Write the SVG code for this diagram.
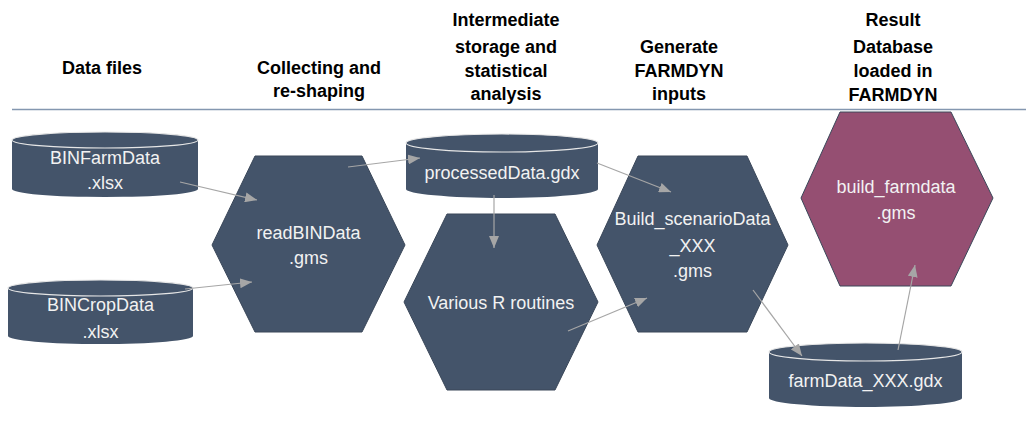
<svg xmlns="http://www.w3.org/2000/svg" width="1026" height="423" viewBox="0 0 1026 423">
<defs>
<style>
.hdr{font-family:"Liberation Sans",Arial,sans-serif;font-weight:bold;font-size:18px;fill:#000;text-anchor:middle}
.lbl{font-family:"Liberation Sans",Arial,sans-serif;font-size:18px;fill:#F2F2F2;text-anchor:middle}
.body{fill:#44546A}
.hex{fill:#44546A;stroke:#3A4759;stroke-width:1}
.hexp{fill:#954F72;stroke:#3A4759;stroke-width:1}
.rim{fill:none;stroke:#E6E6E6;stroke-width:1.2}
.edge{stroke:#A6A6A6;stroke-width:1.2;fill:none;marker-end:url(#ah)}
</style>
<marker id="ah" viewBox="0 0 12 10" refX="12" refY="5" markerWidth="12" markerHeight="10" markerUnits="userSpaceOnUse" orient="auto">
<path d="M0,0 L12,5 L0,10 Z" fill="#A6A6A6"/>
</marker>
</defs>
<rect width="1026" height="423" fill="#fff"/>
<g id="headers">
<text class="hdr" x="102" y="74">Data files</text>
<text class="hdr" x="319" y="74">Collecting and</text>
<text class="hdr" x="319" y="97">re-shaping</text>
<text class="hdr" x="506" y="26">Intermediate</text>
<text class="hdr" x="506" y="53">storage and</text>
<text class="hdr" x="506" y="77">statistical</text>
<text class="hdr" x="506" y="100">analysis</text>
<text class="hdr" x="679" y="53">Generate</text>
<text class="hdr" x="679" y="77">FARMDYN</text>
<text class="hdr" x="679" y="100">inputs</text>
<text class="hdr" x="893" y="26">Result</text>
<text class="hdr" x="893" y="53">Database</text>
<text class="hdr" x="893" y="77">loaded in</text>
<text class="hdr" x="893" y="101">FARMDYN</text>
<line x1="12" y1="109.5" x2="1026" y2="109.5" stroke="#8497B0" stroke-width="1.3"/>
</g>
<g id="binfarmdata">
<path class="body" d="M12,140 A93,8 0 0 1 198,140 L198,189 A93,8 0 0 1 12,189 Z"/>
<ellipse class="rim" cx="105" cy="140" rx="93" ry="8"/>
<text class="lbl" x="105" y="164">BINFarmData</text>
<text class="lbl" x="105" y="189">.xlsx</text>
</g>
<g id="bincropdata">
<path class="body" d="M8,288 A92.5,8 0 0 1 193,288 L193,336 A92.5,8 0 0 1 8,336 Z"/>
<ellipse class="rim" cx="100.5" cy="288" rx="92.5" ry="8"/>
<text class="lbl" x="100.5" y="311">BINCropData</text>
<text class="lbl" x="100.5" y="338">.xlsx</text>
</g>
<g id="readbindata">
<polygon class="hex" points="255,156 362,156 405,245 362,332 255,332 212,245"/>
<text class="lbl" x="308.5" y="239">readBINData</text>
<text class="lbl" x="308.5" y="264">.gms</text>
</g>
<g id="processeddata">
<path class="body" d="M406,143 A96,9 0 0 1 598,143 L598,189 A96,9 0 0 1 406,189 Z"/>
<ellipse class="rim" cx="502" cy="143" rx="96" ry="9"/>
<text class="lbl" x="502" y="179">processedData.gdx</text>
</g>
<g id="various-r">
<polygon class="hex" points="447,214 555,214 598,302 555,390 447,390 404,302"/>
<text class="lbl" x="501" y="309">Various R routines</text>
</g>
<g id="build-scenario">
<polygon class="hex" points="638,156 747,156 788,245 747,332 638,332 597,245"/>
<text class="lbl" x="692.5" y="225">Build_scenarioData</text>
<text class="lbl" x="692.5" y="252">_XXX</text>
<text class="lbl" x="692.5" y="277">.gms</text>
</g>
<g id="farmdata-xxx">
<path class="body" d="M769,352 A96.5,9 0 0 1 962,352 L962,398 A96.5,9 0 0 1 769,398 Z"/>
<ellipse class="rim" cx="865.5" cy="352" rx="96.5" ry="9"/>
<text class="lbl" x="865.5" y="387">farmData_XXX.gdx</text>
</g>
<g id="build-farmdata">
<polygon class="hexp" points="840,112 951,112 993,198 951,286 840,286 801,198"/>
<text class="lbl" x="896" y="193">build_farmdata</text>
<text class="lbl" x="896" y="219">.gms</text>
</g>
<g id="connectors">
<line class="edge" x1="180" y1="182" x2="257" y2="200"/>
<line class="edge" x1="185" y1="289" x2="252" y2="282"/>
<line class="edge" x1="348" y1="167" x2="420" y2="158"/>
<line class="edge" x1="494" y1="195" x2="494" y2="248"/>
<line class="edge" x1="568" y1="331" x2="647" y2="298"/>
<line class="edge" x1="597" y1="163" x2="671" y2="192"/>
<line class="edge" x1="753" y1="290" x2="802" y2="356"/>
<line class="edge" x1="898" y1="350" x2="915" y2="265"/>
</g>
</svg>
